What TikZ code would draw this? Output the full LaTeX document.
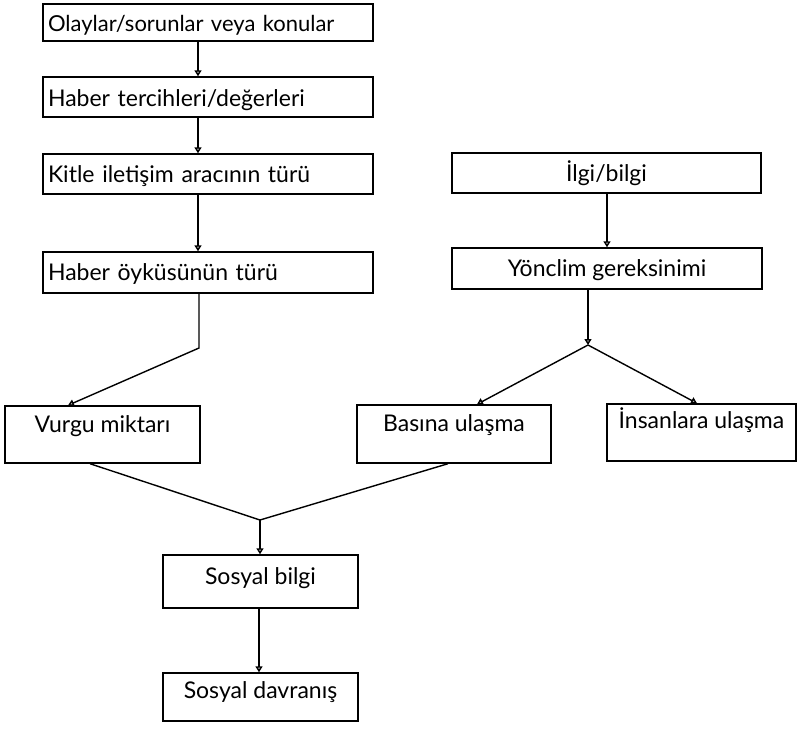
\documentclass[tikz,border=0pt]{standalone}
\usepackage{fontspec}
\setmainfont{Lato}
\usetikzlibrary{arrows.meta}
\begin{document}
\begin{tikzpicture}[x=1pt,y=-1pt,
  box/.style={draw, line width=1.4pt, inner sep=0pt, font=\fontsize{23}{26}\selectfont},
  lbox/.style={box, text width=#1-10pt, inner xsep=5pt, align=left},
  cbox/.style={box, minimum width=#1, align=center},
  conn/.style={line width=1.4pt},
  arr/.style={conn, -{Triangle[width=7pt,length=6pt,fill=gray!60]}}]
\useasboundingbox (0,0) rectangle (798,732);
% left column
\node[lbox=330pt, text height=27pt, text depth=10pt, font=\fontsize{22}{26}\selectfont] (b1) at (208,22.5) {Olaylar/sorunlar veya konular};
\node[lbox=330pt, text height=29pt, text depth=11pt] (b2) at (208,97) {Haber tercihleri/değerleri};
\node[lbox=330pt, text height=28pt, text depth=12pt] (b3) at (208,174) {Kitle iletişim aracının türü};
\node[lbox=330pt, text height=28pt, text depth=13pt] (b4) at (208,272.5) {Haber öyküsünün türü};
% right column
\node[cbox=309pt, text height=28pt, text depth=12pt] (ilgi) at (606.5,173) {İlgi/bilgi};
\node[cbox=310pt, text height=28pt, text depth=13pt] (yon) at (607,268.5) {Yönclim gereksinimi};
% middle row
\node[cbox=195pt, text height=26pt, text depth=31pt] (vurgu) at (102.5,434.5) {Vurgu miktarı};
\node[cbox=194pt, text height=26pt, text depth=32pt] (basina) at (454,434) {Basına ulaşma};
\node[cbox=189pt, text height=24pt, text depth=33pt] (insan) at (701.5,432.5) {İnsanlara ulaşma};
% bottom
\node[cbox=195pt, text height=29pt, text depth=24pt] (sbilgi) at (260.5,581.5) {Sosyal bilgi};
\node[cbox=195pt, text height=25pt, text depth=23pt] (sdav) at (260.5,697) {Sosyal davranış};
% helper coordinates
\coordinate (colL) at (198,0);
\coordinate (bend) at (199,348);
\coordinate (colR) at (607,0);
\coordinate (j1) at (588,345);
\coordinate (j2) at (260,520);
% connectors
\draw[arr] (b1.south -| colL) -- (b2.north -| colL);
\draw[arr] (b2.south -| colL) -- (b3.north -| colL);
\draw[arr] (b3.south -| colL) -- (b4.north -| colL);
\draw[arr] (b4.south -| bend) -- (bend) -- ([xshift=-34.5pt]vurgu.north);
\draw[arr] (ilgi.south -| colR) -- (yon.north -| colR);
\draw[arr] (yon.south -| j1) -- (j1);
\draw[arr] (j1) -- ([xshift=23pt]basina.north);
\draw[arr] (j1) -- ([xshift=-4.5pt]insan.north);
\draw[conn] ([xshift=-12.5pt]vurgu.south) -- (j2);
\draw[conn] ([xshift=-6pt]basina.south) -- (j2);
\draw[arr] (j2) -- (sbilgi.north -| j2);
\draw[arr] ([xshift=-1.5pt]sbilgi.south) -- ([xshift=-1.5pt]sdav.north);
\end{tikzpicture}
\end{document}
